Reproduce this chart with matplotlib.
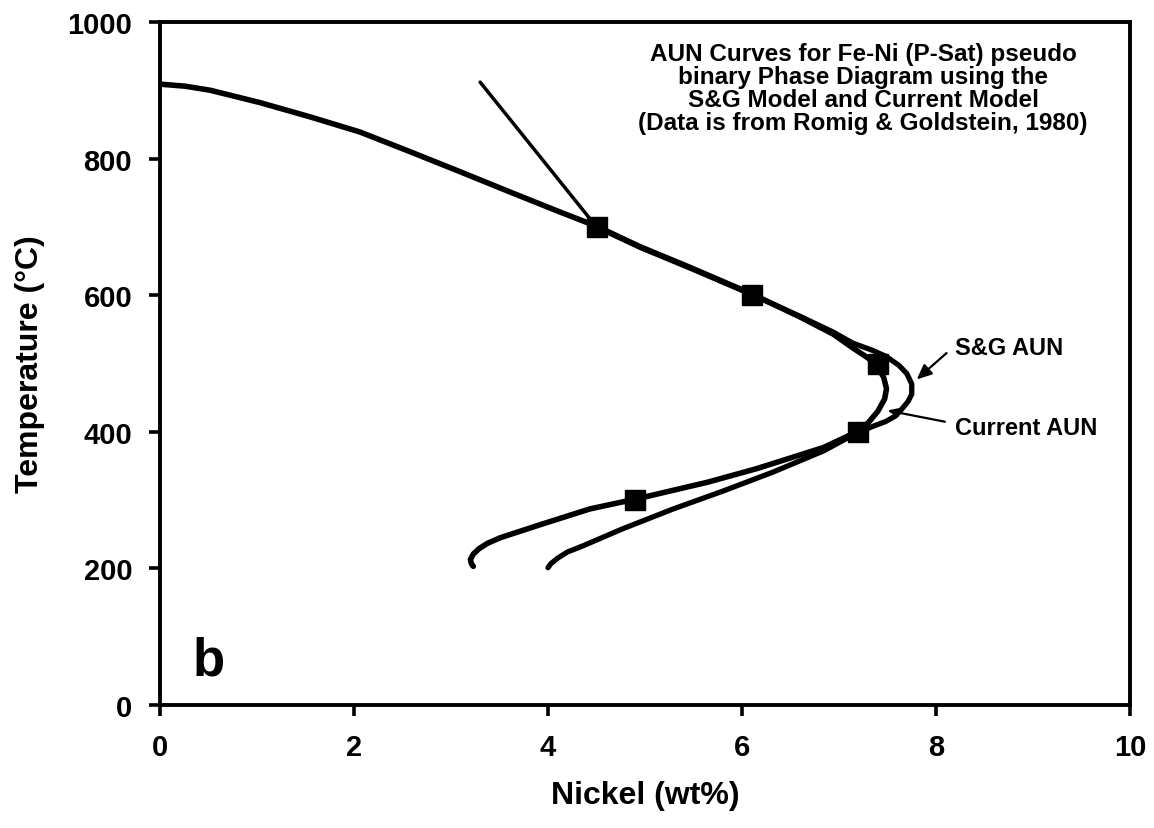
import matplotlib
matplotlib.use("Agg")
import matplotlib.pyplot as plt

plt.rcParams['font.family'] = ['Liberation Sans', 'DejaVu Sans']
plt.rcParams['font.weight'] = 'bold'

# Current AUN curve (inner, passes through the data points)
current_x = [0.0, 0.26, 0.52, 1.03, 1.55, 2.06, 2.58, 3.09, 3.61, 4.12, 4.5, 4.95, 5.46,
             6.1, 6.6, 6.94, 7.14, 7.30, 7.39, 7.46, 7.49, 7.47, 7.40, 7.30, 7.2,
             6.84, 6.15, 5.64, 4.92, 4.43, 3.92, 3.51, 3.38, 3.29, 3.23, 3.20, 3.21, 3.23]
current_T = [909, 906, 900, 882, 861, 839, 810, 781, 751, 722, 701, 671, 641,
             602, 568, 543, 523, 508, 496, 480, 463, 448, 430, 413, 401,
             377, 346, 326, 302, 287, 264, 245, 237, 229, 221, 213, 207, 203]

# S&G AUN curve (outer)
sg_x = [4.5, 4.95, 5.46, 6.1, 6.6, 6.94, 7.14, 7.35, 7.49, 7.62, 7.70, 7.75, 7.75,
        7.71, 7.64, 7.58, 7.48, 7.35, 7.18, 6.84, 6.32, 5.8, 5.29, 4.77, 4.36,
        4.20, 4.10, 4.03, 4.0]
sg_T = [700, 670, 640, 601, 569, 546, 530, 519, 510, 497, 485, 470, 455,
        444, 432, 423, 415, 408, 398, 372, 341, 313, 287, 258, 233,
        224, 215, 207, 201]

# Straight segment above 700 C
line_x = [3.3, 4.5]
line_T = [912, 700]

# Data points (Romig & Goldstein, 1980)
data_x = [4.5, 6.1, 7.4, 7.2, 4.9]
data_T = [700, 600, 500, 400, 300]

x_ticks = [0, 2, 4, 6, 8, 10]
y_ticks = [0, 200, 400, 600, 800, 1000]

fig = plt.figure(figsize=(11.54, 8.29), dpi=100)
ax = fig.add_axes([160/1154, 1-706/829, (1130-160)/1154, (706-23)/829])

ax.plot(current_x, current_T, color='black', lw=4.0, solid_capstyle='round',
        solid_joinstyle='round', zorder=3)
ax.plot(sg_x, sg_T, color='black', lw=3.8, solid_capstyle='round',
        solid_joinstyle='round', zorder=3)
ax.plot(line_x, line_T, color='black', lw=2.5, solid_capstyle='round', zorder=3)
ax.plot(data_x, data_T, linestyle='none', marker='s', markersize=14,
        color='black', zorder=4)

ax.set_xlim(0, 10)
ax.set_ylim(0, 1000)
ax.set_xticks(x_ticks)
ax.set_yticks(y_ticks)
ax.tick_params(direction='out', length=8, width=2.6, labelsize=21, pad=12)
for lab in ax.get_xticklabels() + ax.get_yticklabels():
    lab.set_fontweight('bold')
for s in ax.spines.values():
    s.set_linewidth(2.8)

ax.set_xlabel('Nickel (wt%)', fontsize=23, fontweight='bold', labelpad=14)
ax.set_ylabel('Temperature (°C)', fontsize=23, fontweight='bold', labelpad=16)

ax.text(7.25, 970, 'AUN Curves for Fe-Ni (P-Sat) pseudo\nbinary Phase Diagram using the\n'
        'S&G Model and Current Model\n(Data is from Romig & Goldstein, 1980)',
        ha='center', va='top', multialignment='center', fontsize=17.5,
        fontweight='bold', linespacing=1.0)

ax.text(0.34, 45, 'b', fontsize=38, fontweight='bold', ha='left', va='baseline')

ax.text(8.2, 524, 'S&G AUN', fontsize=17, fontweight='bold', ha='left', va='center')
ax.text(8.2, 407, 'Current AUN', fontsize=17, fontweight='bold', ha='left', va='center')

ax.annotate('', xy=(7.78, 474), xytext=(8.13, 518),
            arrowprops=dict(arrowstyle='-|>,head_length=0.9,head_width=0.4',
                            color='black', lw=1.6))
ax.annotate('', xy=(7.47, 432), xytext=(8.12, 414),
            arrowprops=dict(arrowstyle='-|>,head_length=0.6,head_width=0.25',
                            color='black', lw=1.6))

fig.savefig('out.png', dpi=100)
